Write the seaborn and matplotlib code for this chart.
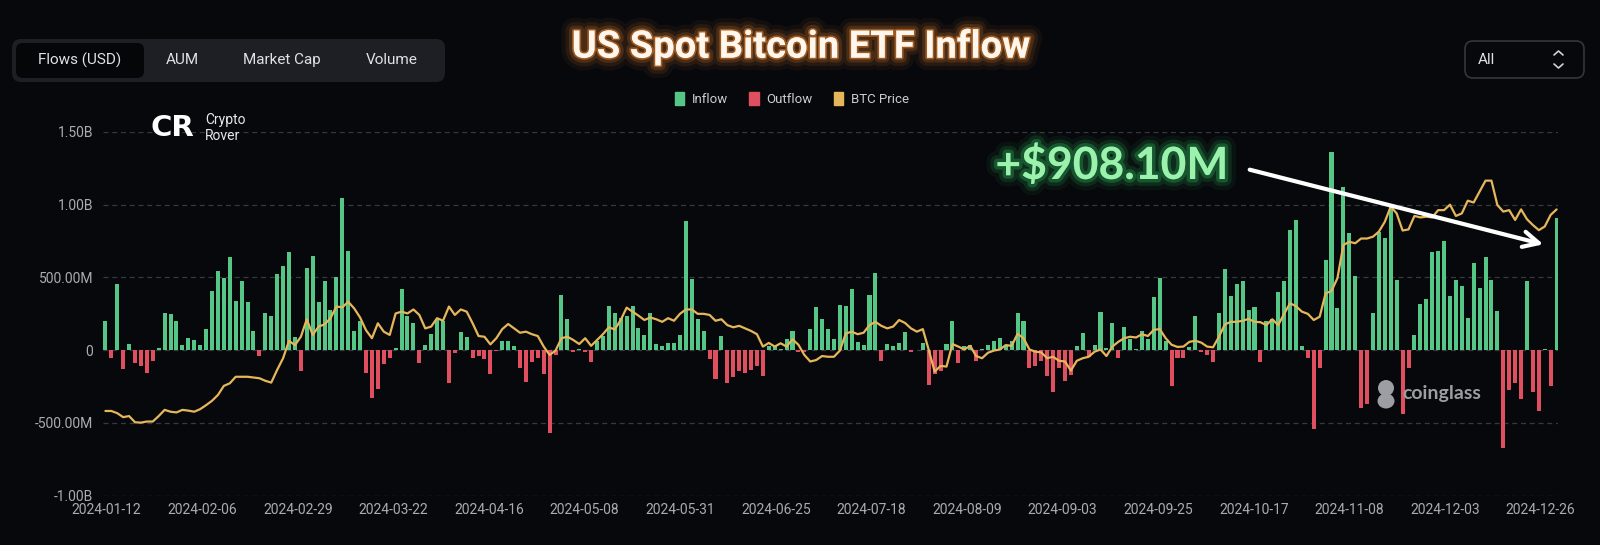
import numpy as np
import pandas as pd
import seaborn as sns
import matplotlib.pyplot as plt
import matplotlib.patheffects as pe
from matplotlib.patches import FancyBboxPatch, Patch, Circle, Ellipse

# daily net flows of the US spot bitcoin ETFs, in millions of USD
flows_musd = [
    202, -55, 454, -131, 41, -89, -108, -158, -78, 14,
    255, 250, 197, 37, 80, 69, 32, 145, 406, 541,
    493, 638, 340, 477, 328, 133, -39, 252, 232, 521,
    578, 672, 92, -142, 564, 649, 330, 473, 275, 505,
    1046, 684, 133, 200, -158, -330, -264, -96, -57, 14,
    418, 236, 183, -89, 37, 110, 213, 197, -227, -21,
    124, 87, -57, -39, -62, -165, -5, 60, 60, 30,
    -124, -218, -85, -55, -165, -567, -32, 378, 216, -16,
    7, -11, -85, 60, 96, 303, 257, 220, 234, 303,
    151, 106, 252, 41, 28, 46, 46, 103, 888, 486,
    216, 128, -62, -200, 99, -227, -188, -147, -154, -138,
    -108, -177, 28, 28, 9, 73, 128, -16, -16, 142,
    294, 213, 147, 76, 310, 301, 422, 53, 34, 381,
    530, -78, 41, 28, 50, 122, -10, 0, 48, -238,
    -165, -147, 41, 200, -89, 28, 37, -78, 5, 34,
    60, 85, 30, 64, 252, 200, -126, -108, -73, -177,
    -287, -120, -211, -170, 28, 117, -46, 37, 264, 14,
    186, -55, 156, 73, 5, 133, 73, 367, 495, 60,
    -245, -55, -55, 23, 232, -16, -32, -85, 255, 555,
    372, 456, 475, 273, 296, -85, 197, 211, 401, 475,
    828, 897, 28, -55, -544, -120, 622, 1363, 289, 1122,
    803, 509, -401, -372, 255, 812, 773, 980, 484, -436,
    -126, 103, 317, 351, 674, 681, 748, 372, 482, 440,
    222, 599, 429, 638, 484, 271, -674, -275, -227, -339,
    475, -287, -417, 5, -245, 908,
]

# BTC price in thousands of USD, one per bar
btc_kusd = [
    42.8, 42.8, 42.2, 41.1, 41.4, 39.7, 39.6, 39.9, 39.9, 41.4,
    43.1, 42.6, 42.4, 43.1, 42.9, 42.6, 43.3, 44.4, 45.6, 47.2,
    49.7, 50.4, 52.2, 52.2, 52.2, 52.0, 51.8, 51.1, 50.6, 54.1,
    57.3, 62.1, 60.9, 63.2, 68.0, 63.7, 66.0, 66.6, 68.3, 71.5,
    71.3, 72.8, 71.0, 68.5, 65.0, 62.8, 66.9, 64.6, 63.7, 69.6,
    70.1, 69.6, 70.7, 69.2, 65.5, 66.0, 68.3, 67.6, 71.5, 69.2,
    70.7, 70.1, 66.9, 63.4, 63.2, 61.1, 62.8, 65.3, 66.7, 65.5,
    64.3, 64.6, 63.9, 63.4, 60.5, 58.2, 59.4, 62.8, 63.2, 62.3,
    61.2, 62.8, 60.7, 62.3, 63.9, 65.8, 65.2, 67.8, 71.2, 70.1,
    69.0, 67.8, 68.5, 68.0, 67.3, 68.3, 67.6, 69.5, 70.7, 70.7,
    69.5, 69.5, 69.2, 67.6, 68.0, 66.4, 65.8, 66.2, 65.5, 64.8,
    63.9, 60.5, 61.5, 60.5, 61.4, 60.5, 62.5, 61.0, 58.2, 56.4,
    56.8, 57.9, 57.7, 57.7, 59.4, 64.1, 64.6, 63.9, 64.3, 66.4,
    67.3, 66.2, 65.5, 66.0, 67.8, 67.0, 65.5, 64.6, 65.3, 59.6,
    53.6, 55.2, 55.0, 61.2, 60.5, 59.7, 60.7, 57.9, 57.3, 58.8,
    59.4, 59.7, 60.9, 60.7, 64.0, 62.8, 59.7, 59.1, 58.9, 57.3,
    57.7, 56.6, 56.4, 53.9, 56.6, 57.3, 57.7, 59.1, 59.7, 57.9,
    60.5, 61.8, 62.8, 63.2, 63.0, 63.9, 63.4, 65.1, 65.3, 62.8,
    61.0, 60.4, 60.5, 61.8, 62.1, 61.6, 60.5, 60.3, 63.2, 66.6,
    67.3, 67.3, 67.6, 68.1, 67.3, 67.2, 66.4, 68.0, 66.4, 69.5,
    72.4, 71.6, 70.1, 69.5, 67.8, 68.7, 75.1, 75.8, 79.3, 88.4,
    89.3, 88.9, 90.2, 90.2, 90.7, 92.1, 94.8, 99.0, 97.1, 92.4,
    92.7, 96.4, 96.0, 96.2, 96.0, 98.0, 98.0, 99.5, 96.4, 97.1,
    100.6, 100.1, 103.1, 106.1, 106.1, 99.4, 97.6, 98.0, 95.3, 98.2,
    95.5, 93.9, 92.5, 93.5, 96.7, 98.2,
]

# one label every ~16 trading days
date_ticks = ['2024-01-12', '2024-02-06', '2024-02-29', '2024-03-22', '2024-04-16',
              '2024-05-08', '2024-05-31', '2024-06-25', '2024-07-18', '2024-08-09',
              '2024-09-03', '2024-09-25', '2024-10-17', '2024-11-08', '2024-12-03',
              '2024-12-26']
y_ticks = [-1.0e9, -0.5e9, 0, 0.5e9, 1.0e9, 1.5e9]
y_tick_labels = ['-1.00B', '-500.00M', '0', '500.00M', '1.00B', '1.50B']
tab_names = ['Flows (USD)', 'AUM', 'Market Cap', 'Volume']

BG = '#07080c'
GREEN = '#55c685'
RED = '#e04f5f'
GOLD = '#e6b65a'
GRID = '#363941'
TXT = '#a9acb3'

sns.set_style('dark', {'axes.facecolor': 'none', 'figure.facecolor': BG})
plt.rcParams['font.family'] = ['Roboto', 'DejaVu Sans']

df = pd.DataFrame({'day': np.arange(len(flows_musd)),
                   'flow': np.array(flows_musd) * 1e6})
df['kind'] = np.where(df['flow'] < 0, 'Outflow', 'Inflow')

fig = plt.figure(figsize=(16, 5.45), dpi=100)
fig.patch.set_facecolor(BG)
ax = fig.add_axes([0.0642, 0.0905, 0.9096, 0.6678])
ax.set_facecolor('none')

sns.barplot(data=df, x='day', y='flow', hue='kind', dodge=False,
            palette={'Inflow': GREEN, 'Outflow': RED}, width=0.68,
            errorbar=None, legend=False, linewidth=0, edgecolor='none',
            saturation=1, ax=ax, zorder=2)

ax.set_ylim(-1.0e9, 1.5e9)
ax.set_yticks(y_ticks)
ax.set_yticklabels(y_tick_labels)
ax.set_xticks(np.arange(len(date_ticks)) * 16.14 + 0.2)
ax.set_xticklabels(date_ticks)
ax.set_xlim(-0.45, len(flows_musd) - 0.75)
ax.set_xlabel('')
ax.set_ylabel('')
ax.yaxis.grid(True, color=GRID, linestyle=(0, (4, 3)), linewidth=0.9, zorder=0)
ax.xaxis.grid(False)
ax.set_axisbelow(True)
ax.tick_params(axis='both', length=0, colors=TXT, labelsize=10)
ax.tick_params(axis='y', pad=7)
ax.tick_params(axis='x', pad=5)
for s in ax.spines.values():
    s.set_visible(False)

# BTC price on a hidden second axis
ax2 = ax.twinx()
sns.lineplot(x=df['day'], y=btc_kusd, color=GOLD, linewidth=1.6, ax=ax2)
ax2.set_ylim(19.52, 119.55)
ax2.set_xlim(-0.45, len(flows_musd) - 0.75)
ax2.axis('off')

# overlay in pixel coordinates for the page furniture
ov = fig.add_axes([0, 0, 1, 1], zorder=5)
ov.set_xlim(0, 1600)
ov.set_ylim(545, 0)
ov.axis('off')

ov.add_patch(FancyBboxPatch((12, 39), 433, 43, boxstyle='round,pad=0,rounding_size=9',
                            fc='#1d1f25', ec='none'))
ov.add_patch(FancyBboxPatch((16, 43), 128, 35, boxstyle='round,pad=0,rounding_size=7',
                            fc='#050608', ec='none'))
for name, x in zip(tab_names, [80, 182, 282, 392]):
    ov.text(x, 60, name, color='#dfe1e6', fontsize=11, ha='center', va='center')

ov.add_patch(FancyBboxPatch((1465, 41), 119, 37, boxstyle='round,pad=0,rounding_size=8',
                            fc=BG, ec='#33363d', lw=1.2))
ov.text(1478, 60, 'All', color='#dfe1e6', fontsize=11, ha='left', va='center')
ov.plot([1554, 1558.5, 1563], [55, 51, 55], color='#cfd2d8', lw=1.2)
ov.plot([1554, 1558.5, 1563], [64, 68, 64], color='#cfd2d8', lw=1.2)

glow = '#ff9236'
ov.text(801, 47, 'US Spot Bitcoin ETF Inflow', color='#fff7ee', fontsize=27.5,
        fontweight='bold', ha='center', va='center',
        family=['Roboto', 'DejaVu Sans'],
        path_effects=[pe.Stroke(linewidth=18, foreground=glow, alpha=0.05),
                      pe.Stroke(linewidth=12, foreground=glow, alpha=0.09),
                      pe.Stroke(linewidth=7, foreground=glow, alpha=0.16),
                      pe.Stroke(linewidth=2.5, foreground=glow, alpha=0.45),
                      pe.Normal()])

ov.legend(handles=[Patch(color=GREEN), Patch(color=RED), Patch(color=GOLD)],
          labels=['Inflow', 'Outflow', 'BTC Price'], loc='center',
          bbox_to_anchor=(0.495, 0.818), ncol=3, frameon=False, fontsize=9.5,
          labelcolor='#c9ccd2', handlelength=0.7, handleheight=1.1,
          columnspacing=1.6, handletextpad=0.6)

# Crypto Rover mark
ov.text(172, 128, 'CR', color='white', fontsize=21, fontweight='heavy',
        ha='center', va='center', family=['DejaVu Sans'])
ov.text(205, 120, 'Crypto', color='#e8e8e8', fontsize=10, ha='left', va='center')
ov.text(205, 136, 'Rover', color='#e8e8e8', fontsize=10, ha='left', va='center')

# coinglass watermark
ov.add_patch(Circle((1386, 388), 8, fc='#9c9ea3', ec='none'))
ov.add_patch(Ellipse((1386, 401), 17, 15, fc='#9c9ea3', ec='none'))
ov.text(1402, 394, 'coinglass', color='#9c9ea3', fontsize=14, fontweight='bold',
        ha='left', va='center', family=['Lato', 'DejaVu Sans'])

# callout
gglow = '#35d96a'
ov.text(1112, 165, '+$908.10M', color='#9af2ad', fontsize=32, fontweight='bold',
        ha='center', va='center', family=['Lato', 'DejaVu Sans'],
        path_effects=[pe.Stroke(linewidth=16, foreground=gglow, alpha=0.06),
                      pe.Stroke(linewidth=10, foreground=gglow, alpha=0.12),
                      pe.Stroke(linewidth=5, foreground=gglow, alpha=0.25),
                      pe.Normal()])
ov.annotate('', xy=(1546, 245), xytext=(1247, 169), xycoords='data',
            arrowprops=dict(arrowstyle='->', color='white', lw=3, mutation_scale=28))

fig.savefig('out.png', dpi=100, facecolor=BG)
